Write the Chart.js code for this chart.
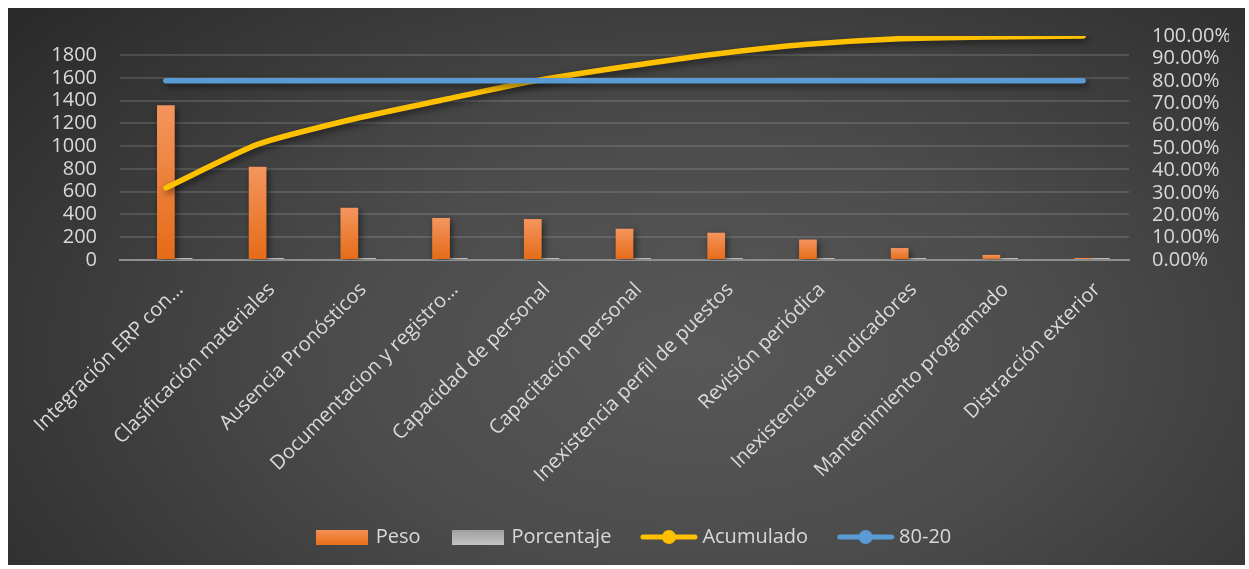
<!DOCTYPE html>
<html>
<head>
<meta charset="utf-8">
<script src="https://cdn.jsdelivr.net/npm/chart.js@4.4.1/dist/chart.umd.min.js"></script>
<style>
	html, body { margin: 0; padding: 0; background: #ffffff; }
	#wrap {
		position: absolute; left: 8px; top: 8px; width: 1237px; height: 557px;
		background: radial-gradient(ellipse 72% 95% at 56% 62%, #585858 0%, #4c4c4c 40%, #2a2a2a 100%);
	}
</style>
</head>
<body>
<div id="wrap"><canvas id="grafico"></canvas></div>
<script>
var aCausas = [
	'Integración ERP con…',
	'Clasificación materiales',
	'Ausencia Pronósticos',
	'Documentacion y registro…',
	'Capacidad de personal',
	'Capacitación personal',
	'Inexistencia perfil de puestos',
	'Revisión periódica',
	'Inexistencia de indicadores',
	'Mantenimiento programado',
	'Distracción exterior'
];
var aPeso       = [1360, 820, 460, 370, 360, 275, 240, 180, 105, 45, 18];
var aPorcentaje = [0.322, 0.194, 0.109, 0.088, 0.085, 0.065, 0.057, 0.043, 0.025, 0.011, 0.004];
var aAcumulado  = [0.322, 0.516, 0.625, 0.713, 0.798, 0.863, 0.920, 0.963, 0.988, 0.996, 1.0];
var aRegla      = [0.8, 0.8, 0.8, 0.8, 0.8, 0.8, 0.8, 0.8, 0.8, 0.8, 0.8];

var aTicksPeso = [0, 200, 400, 600, 800, 1000, 1200, 1400, 1600, 1800];
var aTicksPct  = [0, 0.1, 0.2, 0.3, 0.4, 0.5, 0.6, 0.7, 0.8, 0.9, 1.0];
var nPesoMax   = 1969;
var nPctMax    = 1;

var sTexto  = '#d9d9d9';
var sFuente = "'Open Sans', 'Noto Sans', sans-serif";

function _icono(sTipo, sColor1, sColor2) {
	var c = document.createElement('canvas');
	var ctx;
	if (sTipo == 'barra') {
		c.width = 52; c.height = 15;
		ctx = c.getContext('2d');
		var g = ctx.createLinearGradient(0, 0, 0, 15);
		g.addColorStop(0, sColor1);
		g.addColorStop(1, sColor2);
		ctx.fillStyle = g;
		ctx.fillRect(0, 0, 52, 15);
	} else {
		c.width = 58; c.height = 16;
		ctx = c.getContext('2d');
		ctx.strokeStyle = sColor1;
		ctx.lineWidth = 5;
		ctx.lineCap = 'round';
		ctx.beginPath(); ctx.moveTo(3, 8); ctx.lineTo(55, 8); ctx.stroke();
		ctx.fillStyle = sColor1;
		ctx.beginPath(); ctx.arc(29, 8, 7, 0, Math.PI * 2); ctx.fill();
	}
	return c;
}

function _degradado(context, sArriba, sAbajo, sPlano) {
	var chart = context.chart;
	var y = chart.scales.y;
	if (!y || context.type != 'data' || !context.parsed) { return sPlano; }
	var nTop  = y.getPixelForValue(context.parsed.y);
	var nBase = y.getPixelForValue(0);
	if (!isFinite(nTop) || nBase - nTop < 1) { return sPlano; }
	var g = chart.ctx.createLinearGradient(0, nTop, 0, nBase);
	g.addColorStop(0, sArriba);
	g.addColorStop(1, sAbajo);
	return g;
}

function _sinRelleno(nAncho) {
	return function(axis) {
		axis.width = nAncho;
		axis.paddingTop = 0;
		axis.paddingBottom = 0;
	};
}

var pluginSombra = {
	id: 'sombra',
	beforeDatasetDraw: function(chart) {
		var c = chart.ctx;
		c.save();
		c.shadowColor = 'rgba(0,0,0,0.55)';
		c.shadowBlur = 7;
		c.shadowOffsetX = 2;
		c.shadowOffsetY = 3;
	},
	afterDatasetDraw: function(chart) {
		chart.ctx.restore();
	}
};

var aIconos = [
	_icono('barra', '#f39256', '#e8701c'),
	_icono('barra', '#9e9e9e', '#c4c4c4'),
	_icono('linea', '#ffc000'),
	_icono('linea', '#5b9bd5')
];

new Chart(document.getElementById('grafico'), {
	data: {
		labels: aCausas,
		datasets: [
			{
				type: 'bar',
				label: 'Peso',
				data: aPeso,
				yAxisID: 'y',
				order: 2,
				backgroundColor: function(c) { return _degradado(c, '#f4955e', '#e56b16', '#ed7d31'); },
				categoryPercentage: 0.58,
				barPercentage: 1.0
			},
			{
				type: 'bar',
				label: 'Porcentaje',
				data: aPorcentaje,
				yAxisID: 'y',
				order: 2,
				backgroundColor: '#bdbdbd',
				minBarLength: 2,
				categoryPercentage: 0.58,
				barPercentage: 1.0
			},
			{
				type: 'line',
				label: 'Acumulado',
				data: aAcumulado,
				yAxisID: 'y2',
				order: 1,
				borderColor: '#ffc000',
				backgroundColor: '#ffc000',
				borderWidth: 5.5,
				borderCapStyle: 'round',
				borderJoinStyle: 'round',
				pointRadius: 0,
				tension: 0.2
			},
			{
				type: 'line',
				label: '80-20',
				data: aRegla,
				yAxisID: 'y2',
				order: 0,
				borderColor: '#5b9bd5',
				backgroundColor: '#5b9bd5',
				borderWidth: 5.5,
				borderCapStyle: 'round',
				pointRadius: 0
			},
			{
				// hueco para que Peso quede centrado en la categoria
				type: 'bar',
				label: '',
				data: aCausas.map(function() { return null; }),
				yAxisID: 'y',
				order: 1.9,
				categoryPercentage: 0.58,
				barPercentage: 1.0
			}
		]
	},
	options: {
		responsive: true,
		maintainAspectRatio: false,
		animation: false,
		layout: { padding: { top: 28, left: 33, right: 16, bottom: 8 } },
		plugins: {
			tooltip: { enabled: false },
			legend: {
				position: 'bottom',
				labels: {
					usePointStyle: true,
					pointStyleWidth: 47,
					padding: 34,
					color: sTexto,
					font: { family: sFuente, size: 20 },
					generateLabels: function(chart) {
						return chart.data.datasets.slice(0, 4).map(function(ds, i) {
							return {
								text: ds.label,
								pointStyle: aIconos[i],
								fillStyle: 'rgba(0,0,0,0)',
								strokeStyle: 'rgba(0,0,0,0)',
								lineWidth: 0,
								fontColor: sTexto,
								hidden: false,
								datasetIndex: i
							};
						});
					}
				}
			}
		},
		scales: {
			x: {
				offset: true,
				grid: { display: false },
				border: { display: true, color: '#8f8f8f', width: 2 },
				afterFit: function(axis) {
					axis.height = 233;
					axis.paddingLeft = 0;
					axis.paddingRight = 0;
				},
				ticks: {
					color: sTexto,
					font: { family: sFuente, size: 20 },
					minRotation: 45,
					maxRotation: 45,
					autoSkip: false,
					padding: 10,
					labelOffset: 14
				}
			},
			y: {
				position: 'left',
				min: 0,
				max: nPesoMax,
				afterBuildTicks: function(axis) {
					axis.ticks = aTicksPeso.map(function(v) { return { value: v }; });
				},
				afterFit: _sinRelleno(79),
				grid: { color: 'rgba(255,255,255,0.13)', lineWidth: 2, drawTicks: false },
				border: { display: false },
				ticks: {
					autoSkip: false,
					color: sTexto,
					font: { family: sFuente, size: 20, lineHeight: 1.1 },
					padding: 23,
					callback: function(v) { return String(v); }
				}
			},
			y2: {
				position: 'right',
				min: 0,
				max: nPctMax,
				afterBuildTicks: function(axis) {
					axis.ticks = aTicksPct.map(function(v) { return { value: v }; });
				},
				afterFit: _sinRelleno(100),
				grid: { display: false, drawTicks: false },
				border: { display: false },
				ticks: {
					autoSkip: false,
					color: sTexto,
					font: { family: sFuente, size: 20, lineHeight: 1.1 },
					padding: 23,
					callback: function(v) { return (v * 100).toFixed(2) + '%'; }
				}
			}
		}
	},
	plugins: [pluginSombra]
});
</script>
</body>
</html>
